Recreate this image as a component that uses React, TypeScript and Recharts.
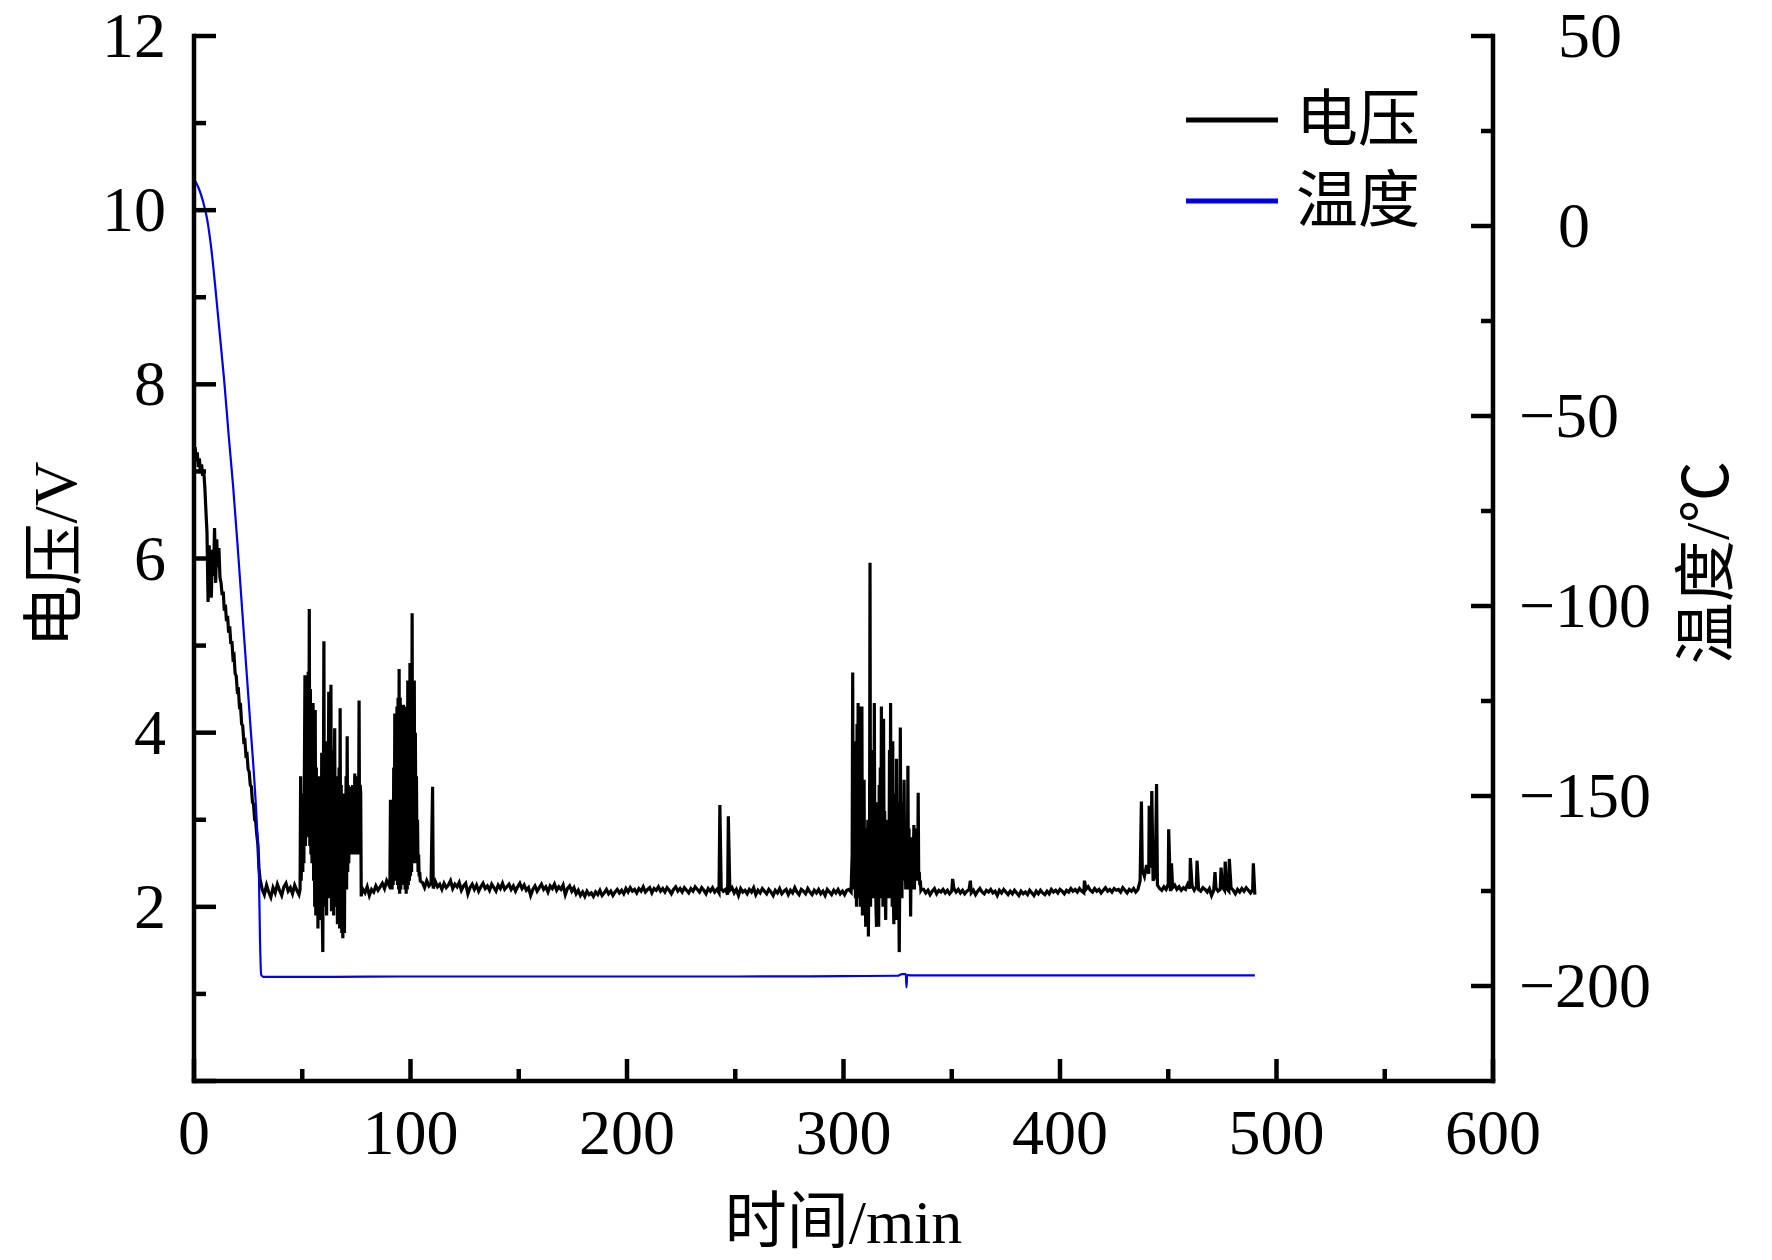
import React from "react";
import { LineChart, Line, XAxis, YAxis, Legend, Label } from "recharts";

// ---- data ----
// voltage (V), sampled on regular grids; bursts are sampled finer
const voltDescent = [
  7.2, 7.28, 7.12, 7.22, 7.05, 7.15, 6.98, 7.08, 6.95, 7.0, 6.82, 6.55, 6.3, 5.5, 6.15, 5.85,
  5.55, 6.1, 5.8, 6.35, 5.72, 6.22, 5.9, 6.12, 5.78, 5.72, 5.58, 5.62, 5.4, 5.47, 5.28, 5.34,
  5.15, 5.22, 5.02, 5.05, 4.86, 4.88, 4.68, 4.65, 4.48, 4.49, 4.3, 4.31, 4.1, 4.08, 3.9, 3.91,
  3.74, 3.75, 3.58, 3.55, 3.4, 3.38, 3.2, 3.18, 3.0, 2.98, 2.83, 2.72, 2.45, 2.32, 2.26,
];
const voltBase1 = [
  2.2, 2.14, 2.25, 2.17, 2.11, 2.22, 2.16, 2.26, 2.19, 2.13, 2.23, 2.27, 2.18, 2.22, 2.15, 2.25,
  2.19, 2.14,
];
const voltBurst1 = [
  2.2, 3.5, 2.3, 2.6, 3.1, 2.4, 3.3, 2.5, 3.6, 4.66, 2.7, 4.0, 2.8, 4.3, 3.0, 4.7,
  2.9, 5.42, 2.7, 4.5, 2.6, 4.1, 2.5, 3.9, 4.34, 2.3, 3.8, 2.0, 4.26, 1.9, 3.6, 2.2,
  3.5, 1.75, 3.3, 2.0, 3.5, 1.85, 3.4, 2.1, 3.77, 1.9, 1.48, 3.2, 5.05, 2.0, 3.5, 2.3,
  3.6, 1.9, 3.9, 2.4, 3.4, 4.47, 2.1, 3.5, 2.2, 4.55, 1.95, 3.6, 2.3, 3.8, 1.9, 3.5,
  4.05, 2.0, 3.4, 2.2, 3.5, 1.8, 3.3, 2.1, 3.6, 1.75, 4.28, 2.0, 3.4, 1.7, 3.2, 1.64,
  3.3, 1.9, 1.7, 3.1, 2.3, 3.5, 2.2, 3.96, 2.4, 3.4, 2.5, 3.38, 2.6, 3.3, 2.7, 3.2,
  2.6, 3.4, 2.8, 3.1, 2.7, 3.53, 2.6, 3.2, 2.8, 3.3, 2.6, 3.5, 2.7, 4.37, 2.6, 3.4,
  3.3, 2.12, 2.2, 2.18,
];
const voltBase2 = [2.2, 2.16, 2.23, 2.13, 2.2, 2.17, 2.24, 2.19, 2.23, 2.27, 2.21, 2.3, 2.25];
const voltBurst2 = [
  2.3, 3.23, 2.2, 2.8, 2.2, 3.2, 2.25, 3.6, 2.3, 4.22, 2.35, 3.9, 2.3, 4.3, 2.25, 4.4,
  2.2, 4.73, 2.15, 4.4, 2.2, 4.2, 2.25, 3.9, 2.3, 4.32, 2.4, 3.6, 2.2, 3.9, 2.15, 4.3,
  2.2, 4.6, 2.25, 4.5, 2.3, 4.8, 2.35, 4.7, 2.4, 5.37, 2.5, 4.5, 2.6, 4.6, 2.5, 4.0,
  2.5, 3.5, 2.5, 3.0, 2.4, 2.6, 2.35, 2.4, 2.3, 2.29,
];
const voltBase3 = [
  2.28, 2.22, 2.3, 2.24, 2.27, 2.21, 2.29, 2.23, 2.26, 2.2,
  2.27, 2.22, 2.25, 2.3, 2.21, 2.26, 2.23, 2.28, 2.19, 2.24,
  2.27, 2.15, 2.22, 2.26, 2.2, 2.25, 2.18, 2.23, 2.27, 2.21,
  2.24, 2.19, 2.26, 2.22, 2.18, 2.25, 2.21, 2.27, 2.2, 2.23,
  2.26, 2.2, 2.24, 2.18, 2.23, 2.27, 2.21, 2.25, 2.19, 2.22,
  2.13, 2.2, 2.24, 2.18, 2.22, 2.26, 2.2, 2.23, 2.17, 2.24,
  2.21, 2.26, 2.19, 2.23, 2.2, 2.25, 2.14, 2.21, 2.24, 2.18,
  2.22, 2.15, 2.19, 2.13, 2.17, 2.12, 2.18, 2.14, 2.16, 2.12,
  2.17, 2.14, 2.19, 2.13, 2.16, 2.2, 2.15, 2.18, 2.13, 2.17,
  2.2, 2.16, 2.19, 2.15, 2.21, 2.17, 2.22, 2.18, 2.2, 2.16,
  2.21, 2.18, 2.23, 2.17, 2.2, 2.22, 2.16, 2.21, 2.19, 2.23,
  2.18, 2.21, 2.17, 2.22, 2.19, 2.15, 2.2, 2.23, 2.18, 2.21,
  2.17, 2.22, 2.19, 2.16, 2.21, 2.18, 2.23, 2.2, 2.17, 2.22,
  2.19, 2.15, 2.21, 2.18, 2.22, 2.17, 2.2, 2.16, 2.21, 2.18,
  2.2, 2.14, 2.19, 2.22, 2.16, 2.2, 2.13, 2.21, 2.17, 2.19,
  2.15, 2.2, 2.17, 2.22, 2.14, 2.19, 2.16, 2.21, 2.18, 2.15,
  2.2, 2.17, 2.13, 2.19, 2.16, 2.21, 2.15, 2.18, 2.2, 2.14,
  2.19, 2.16, 2.22, 2.17, 2.14, 2.2, 2.18, 2.15, 2.21, 2.17,
  2.14, 2.19, 2.16, 2.2, 2.15, 2.18, 2.13, 2.2, 2.17, 2.14,
  2.19, 2.16, 2.2, 2.15, 2.18, 2.14, 2.19, 2.2, 2.17,
];
const voltBurst3 = [
  2.6, 4.69, 2.4, 3.2, 2.2, 3.9, 2.1, 3.4, 2.0, 4.1, 2.3, 4.34, 2.1, 4.3, 2.4, 2.0,
  3.6, 2.2, 4.3, 1.9, 3.0, 2.2, 3.46, 2.0, 2.6, 1.77, 2.9, 2.1, 2.5, 3.0, 1.66, 2.7,
  2.2, 5.95, 2.0, 3.5, 2.3, 3.0, 2.1, 3.8, 2.2, 4.34, 2.1, 2.7, 2.0, 1.77, 3.2, 2.3,
  2.9, 1.77, 3.4, 2.2, 3.6, 2.1, 4.3, 2.3, 2.6, 2.0, 4.16, 2.5, 3.1, 2.2, 1.85, 2.8,
  2.4, 3.0, 2.1, 2.9, 2.2, 3.8, 2.1, 4.34, 2.3, 3.3, 2.0, 3.9, 2.2, 1.8, 3.3, 2.0,
  2.7, 1.85, 3.7, 2.2, 3.2, 2.0, 2.3, 1.48, 2.4, 4.06, 2.3, 2.9, 2.1, 3.2, 2.3, 2.8,
  3.46, 2.3, 2.6, 2.2, 3.0, 2.2, 2.5, 3.62, 2.3, 2.9, 2.2, 2.7, 1.89, 2.6, 2.2, 2.8,
  2.3, 2.5, 2.94, 2.2, 2.6, 2.3, 2.9, 2.4, 2.5, 2.3, 3.31, 2.3, 2.4, 2.25, 2.3, 2.19,
  2.2,
];
const voltBase4 = [
  2.2, 2.16, 2.19, 2.14, 2.18, 2.21, 2.15, 2.19, 2.17, 2.2,
  2.16, 2.19, 2.15, 2.18, 2.21, 2.17, 2.2, 2.16, 2.19, 2.15,
  2.18, 2.2, 2.16, 2.19, 2.14, 2.18, 2.21, 2.17, 2.15, 2.19,
  2.17, 2.2, 2.16, 2.18, 2.13, 2.19, 2.16, 2.2, 2.17, 2.14,
  2.18, 2.15, 2.19, 2.16, 2.13, 2.18, 2.15, 2.17, 2.14, 2.19,
  2.16, 2.13, 2.18, 2.15, 2.19, 2.16, 2.14, 2.18, 2.15, 2.2,
  2.17, 2.19, 2.16, 2.2, 2.18, 2.15, 2.19, 2.17, 2.21, 2.18,
  2.2, 2.17, 2.21, 2.18, 2.16, 2.2, 2.23, 2.19, 2.17, 2.21,
  2.18, 2.2, 2.16, 2.19, 2.22, 2.18, 2.2, 2.17, 2.21, 2.19,
  2.2, 2.17, 2.22, 2.19, 2.16, 2.2, 2.18, 2.21, 2.17, 2.2,
  2.3, 2.42, 2.35, 2.48, 2.38, 2.45, 2.3, 2.36, 2.25, 2.21,
  2.19, 2.23, 2.2, 2.26, 2.18, 2.22, 2.25, 2.2, 2.23, 2.19,
  2.22, 2.2, 2.26, 2.21, 2.24, 2.19, 2.23, 2.2, 2.18, 2.22,
  2.2, 2.17, 2.21, 2.13, 2.19, 2.22, 2.18, 2.2, 2.23, 2.19,
  2.21, 2.18, 2.22, 2.19, 2.15, 2.2, 2.17, 2.21, 2.18, 2.22,
  2.19, 2.16, 2.2, 2.14,
];
// isolated single-sample spikes [min, V]
const voltSpikes: [number, number][] = [
  [110.2, 3.38], [242.9, 3.17], [246.8, 3.04], [350.4, 2.32], [358.6, 2.3], [411.3, 2.3],
  [437.6, 3.21], [441.2, 3.16], [442.4, 3.33], [444.6, 3.41], [450.2, 2.89], [451.5, 2.5],
  [460.2, 2.56], [463.3, 2.53], [471.6, 2.4], [474.4, 2.45], [476.3, 2.52], [478.2, 2.55],
  [489.3, 2.5],
];

// temperature (°C)
const tempTime = [
  0, 2, 4, 6, 8, 10, 12, 14, 16, 18, 20, 22, 24, 26, 28, 29, 30, 30.5, 31, 32,
  60, 100, 150, 200, 250, 300, 325, 327, 328.8, 329.1, 329.4, 331, 360, 400, 450, 490,
];
const tempValue = [
  12.3, 10.2, 6.8, 2, -6, -17, -29, -41, -55, -68, -83, -99, -115, -131, -147, -157, -171, -188, -197, -197.6,
  -197.6, -197.5, -197.5, -197.5, -197.5, -197.4, -197.3, -196.9, -196.9, -200.4, -197.1, -197.2, -197.2, -197.2, -197.2, -197.2,
];

const xTicks = [0, 50, 100, 150, 200, 250, 300, 350, 400, 450, 500, 550, 600];
const voltTicks = [0, 1, 2, 3, 4, 5, 6, 7, 8, 9, 10, 11, 12];
const tempTicks = [50, 25, 0, -25, -50, -75, -100, -125, -150, -175, -200];
const seriesOrder = ["电压", "温度"];

const voltageRuns = [
  { start: 0, step: 0.5, values: voltDescent },
  { start: 31.5, step: 1, values: voltBase1 },
  { start: 49, step: 0.25, values: voltBurst1 },
  { start: 78, step: 1, values: voltBase2 },
  { start: 90.5, step: 0.25, values: voltBurst2 },
  { start: 105.5, step: 1, values: voltBase3 },
  { start: 304, step: 0.25, values: voltBurst3 },
  { start: 337, step: 1, values: voltBase4 },
];

const voltageData = voltageRuns
  .flatMap((r) => r.values.map((v, i) => ({ t: +(r.start + i * r.step).toFixed(3), v })))
  .concat(voltSpikes.map(([t, v]) => ({ t, v })))
  .sort((a, b) => a.t - b.t);

const tempData = tempTime.map((t, i) => ({ t, v: tempValue[i] }));

// ---- layout ----
const W = 1772;
const H = 1260;
const PLOT = { left: 194, right: 1493, top: 36, bottom: 1081 };
const SERIF = "'Liberation Serif', 'Times New Roman', serif";
const MIXED = "'Liberation Serif', 'Noto Sans CJK SC', serif";
const FS = 64;
const AXIS = { stroke: "#000", strokeWidth: 4.5, strokeLinecap: "square" as const };

const fmt = (v: number) => (v < 0 ? "\u2212" + Math.abs(v) : String(v));

function XTick({ x, y, payload }: any) {
  const v = payload.value;
  const major = v % 100 === 0;
  return (
    <g>
      <line x1={x} x2={x} y1={y} y2={y - (major ? 22 : 12)} stroke="#000" strokeWidth={4.5} />
      {major && (
        <text x={x} y={y + 73} textAnchor="middle" fontSize={FS} fontFamily={SERIF} fill="#000">
          {fmt(v)}
        </text>
      )}
    </g>
  );
}

function LeftTick({ x, y, payload }: any) {
  const v = payload.value;
  const major = v % 2 === 0;
  return (
    <g>
      <line x1={x} x2={x + (major ? 22 : 12)} y1={y} y2={y} stroke="#000" strokeWidth={4.5} />
      {major && v !== 0 && (
        <text x={x - 28} y={y} dy="0.33em" textAnchor="end" fontSize={FS} fontFamily={SERIF} fill="#000">
          {fmt(v)}
        </text>
      )}
    </g>
  );
}

function RightTick({ x, y, payload }: any) {
  const v = payload.value;
  const major = v % 50 === 0;
  return (
    <g>
      <line x1={x} x2={x - (major ? 22 : 12)} y1={y} y2={y} stroke="#000" strokeWidth={4.5} />
      {major && (
        <text x={x + 26 + (v >= 0 ? 39 : 0)} y={y} dy="0.33em" textAnchor="start" fontSize={FS} fontFamily={SERIF} fill="#000">
          {fmt(v)}
        </text>
      )}
    </g>
  );
}

const leftTitle = ({ viewBox }: any) => {
  const cx = viewBox.x + 55;
  const cy = viewBox.y + viewBox.height / 2 - 4;
  return (
    <text x={cx} y={cy} transform={`rotate(-90 ${cx} ${cy})`} textAnchor="middle" dominantBaseline="central"
      fontSize={62} fontFamily={MIXED} fill="#000">
      电压/V
    </text>
  );
};

const rightTitle = ({ viewBox }: any) => {
  const cx = viewBox.x + 214;
  const cy = viewBox.y + viewBox.height / 2 + 4;
  return (
    <text x={cx} y={cy} transform={`rotate(-90 ${cx} ${cy})`} textAnchor="middle" dominantBaseline="central"
      fontSize={62} fontFamily={MIXED} fill="#000">
      温度/℃
    </text>
  );
};

const bottomTitle = ({ viewBox }: any) => (
  <text x={viewBox.x + viewBox.width / 2} y={viewBox.y + 162} textAnchor="middle" fontSize={62} fontFamily={MIXED} fill="#000">
    时间/min
  </text>
);

const renderLegend = ({ payload }: any) => {
  const items = [...(payload || [])].sort(
    (a: any, b: any) => seriesOrder.indexOf(a.value) - seriesOrder.indexOf(b.value)
  );
  return (
    <div>
      {items.map((entry: any) => (
        <div key={entry.value} style={{ display: "flex", alignItems: "center", height: 81 }}>
          <svg width={92} height={10} style={{ display: "block" }}>
            <line x1={0} x2={92} y1={5} y2={5} stroke={entry.color} strokeWidth={5} />
          </svg>
          <span style={{ marginLeft: 18, fontSize: 62, lineHeight: 1, fontFamily: MIXED, color: "#000" }}>
            {entry.value}
          </span>
        </div>
      ))}
    </div>
  );
};

export default function App() {
  return (
    <div style={{ position: "absolute", left: 0, top: 0, width: W, height: H, background: "#fff" }}>
      <LineChart width={W} height={H} margin={{ top: PLOT.top, right: 0, bottom: 0, left: 0 }}>
        <XAxis
          xAxisId="bottom"
          dataKey="t"
          type="number"
          domain={[0, 600]}
          ticks={xTicks}
          interval={0}
          height={H - PLOT.bottom}
          tickSize={0}
          tickMargin={0}
          tickLine={false}
          axisLine={AXIS}
          tick={(p: any) => <XTick {...p} />}
        >
          <Label content={bottomTitle} />
        </XAxis>
        <XAxis
          xAxisId="top"
          orientation="top"
          type="number"
          domain={[0, 600]}
          height={0}
          tick={false}
          tickLine={false}
          axisLine={AXIS}
        />
        <YAxis
          yAxisId="v"
          type="number"
          domain={[0, 12]}
          ticks={voltTicks}
          interval={0}
          width={PLOT.left}
          tickSize={0}
          tickMargin={0}
          tickLine={false}
          axisLine={AXIS}
          tick={(p: any) => <LeftTick {...p} />}
        >
          <Label content={leftTitle} />
        </YAxis>
        <YAxis
          yAxisId="T"
          orientation="right"
          type="number"
          domain={[-225, 50]}
          ticks={tempTicks}
          interval={0}
          width={W - PLOT.right}
          tickSize={0}
          tickMargin={0}
          tickLine={false}
          axisLine={AXIS}
          tick={(p: any) => <RightTick {...p} />}
        >
          <Label content={rightTitle} />
        </YAxis>
        <Legend
          layout="vertical"
          align="center"
          verticalAlign="middle"
          content={renderLegend}
          wrapperStyle={{ position: "absolute", left: 1186, top: 79, width: 320, height: 162 }}
        />
        <Line
          xAxisId="bottom"
          yAxisId="v"
          data={voltageData}
          dataKey="v"
          name="电压"
          type="linear"
          stroke="#000"
          strokeWidth={3.2}
          dot={false}
          activeDot={false}
          isAnimationActive={false}
        />
        <Line
          xAxisId="bottom"
          yAxisId="T"
          data={tempData}
          dataKey="v"
          name="温度"
          type="monotone"
          stroke="#0000e6"
          strokeWidth={2.2}
          dot={false}
          activeDot={false}
          isAnimationActive={false}
        />
      </LineChart>
    </div>
  );
}
